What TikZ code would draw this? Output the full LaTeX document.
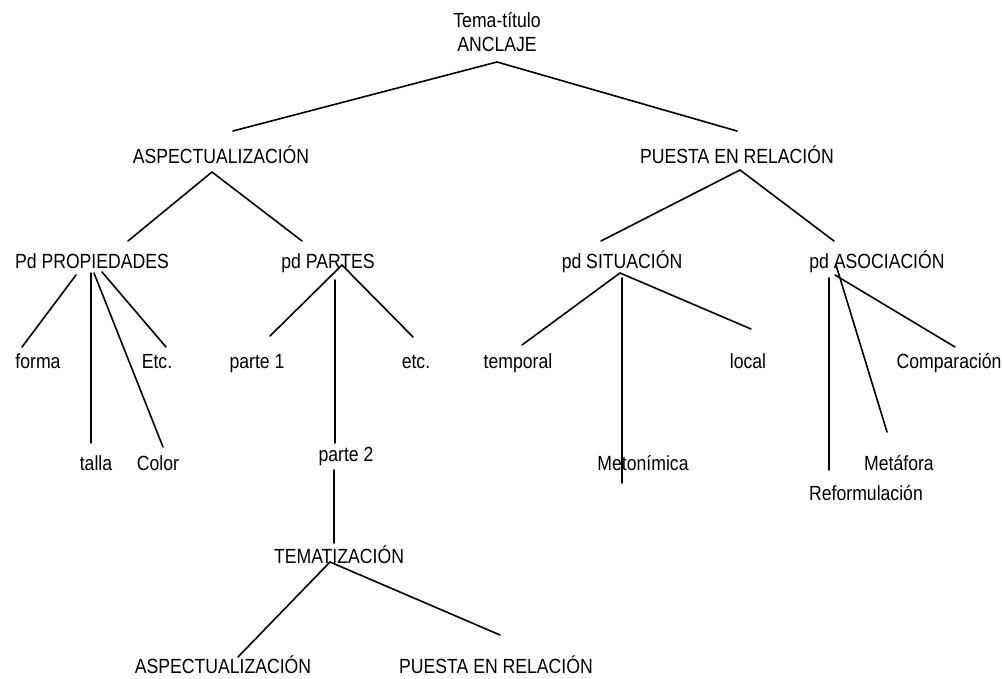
\documentclass[tikz,border=0pt]{standalone}
\usepackage{fontspec}
\setmainfont{Liberation Sans}[FakeStretch=0.86]
\begin{document}
\begin{tikzpicture}[x=1pt,y=-1pt,
  lbl/.style={inner sep=0pt, anchor=base, font=\fontsize{20.5}{24}\selectfont},
  edge/.style={line width=1.6pt, line cap=round}]
\useasboundingbox (0,0) rectangle (1002,679);

% labels (positions are horizontal centre and baseline)
\node[lbl] (root)  at (497,28)  {Tema-título};
\node[lbl] (root2) at (497,52)  {ANCLAJE};
\node[lbl] (asp)  at (221,164) {ASPECTUALIZACIÓN};
\node[lbl] (rel)  at (737,164) {PUESTA EN RELACIÓN};
\node[lbl] (prop) at (92,269)  {Pd PROPIEDADES};
\node[lbl] (part) at (328,269) {pd PARTES};
\node[lbl] (sit)  at (622,269) {pd SITUACIÓN};
\node[lbl] (asoc) at (877,269) {pd ASOCIACIÓN};
\node[lbl] (forma) at (38,368)  {forma};
\node[lbl] (etc1)  at (157,368) {Etc.};
\node[lbl] (talla) at (96,470)  {talla};
\node[lbl] (color) at (158,470) {Color};
\node[lbl] (p1)    at (257,368) {parte 1};
\node[lbl] (etc2)  at (416,368) {etc.};
\node[lbl] (p2)    at (346,461) {parte 2};
\node[lbl] (tema)  at (339,563) {TEMATIZACIÓN};
\node[lbl] (asp2)  at (223,673) {ASPECTUALIZACIÓN};
\node[lbl] (rel2)  at (496,673) {PUESTA EN RELACIÓN};
\node[lbl] (temp)  at (518,368) {temporal};
\node[lbl] (loc)   at (748,368) {local};
\node[lbl] (meto)  at (643,470) {Metonímica};
\node[lbl] (comp)  at (949,368) {Comparación};
\node[lbl] (meta)  at (899,470) {Metáfora};
\node[lbl] (refo)  at (866,500) {Reformulación};

% connector end points
\coordinate (root-b) at (497,62);
\coordinate (asp-t) at (233,131);
\coordinate (rel-t) at (737,131);
\coordinate (asp-b) at (212,172);
\coordinate (prop-t) at (128,241);
\coordinate (part-t) at (302,241);
\coordinate (rel-b) at (740,170);
\coordinate (sit-t) at (601,241);
\coordinate (asoc-t) at (834,241);
% properties
\coordinate (prop-b1) at (76,275);
\coordinate (forma-t) at (22,347);
\coordinate (prop-b2) at (91,273);
\coordinate (talla-t) at (91,443);
\coordinate (prop-b3) at (94,273);
\coordinate (color-t) at (163,447);
\coordinate (prop-b4) at (102,272);
\coordinate (etc1-t) at (166,347);
% parts
\coordinate (part-b) at (342,265);
\coordinate (p1-t) at (270,336);
\coordinate (etc2-t) at (413,337);
\coordinate (part-b2) at (335,280);
\coordinate (p2-t) at (335,443);
\coordinate (p2-b) at (334,470);
\coordinate (tema-t) at (334,543);
\coordinate (tema-b) at (330,562);
\coordinate (asp2-t) at (238,657);
\coordinate (rel2-t) at (500,635);
% situation
\coordinate (sit-b) at (620,273);
\coordinate (temp-t) at (522,345);
\coordinate (loc-t) at (751,329);
\coordinate (sit-b2) at (622,278);
\coordinate (meto-b) at (622,483);
% association
\coordinate (asoc-b1) at (829,278);
\coordinate (refo-t) at (829,470);
\coordinate (asoc-b2) at (836,265);
\coordinate (meta-t) at (887,432);
\coordinate (asoc-b3) at (835,275);
\coordinate (comp-t) at (955,347);

% connectors
\draw[edge] (asp-t) -- (root-b) -- (rel-t);
\draw[edge] (prop-t) -- (asp-b) -- (part-t);
\draw[edge] (sit-t) -- (rel-b) -- (asoc-t);
\draw[edge] (prop-b1) -- (forma-t);
\draw[edge] (prop-b2) -- (talla-t);
\draw[edge] (prop-b3) -- (color-t);
\draw[edge] (prop-b4) -- (etc1-t);
\draw[edge] (p1-t) -- (part-b) -- (etc2-t);
\draw[edge] (part-b2) -- (p2-t);
\draw[edge] (p2-b) -- (tema-t);
\draw[edge] (asp2-t) -- (tema-b) -- (rel2-t);
\draw[edge] (temp-t) -- (sit-b) -- (loc-t);
\draw[edge] (sit-b2) -- (meto-b);
\draw[edge] (asoc-b1) -- (refo-t);
\draw[edge] (asoc-b2) -- (meta-t);
\draw[edge] (asoc-b3) -- (comp-t);
\end{tikzpicture}
\end{document}
